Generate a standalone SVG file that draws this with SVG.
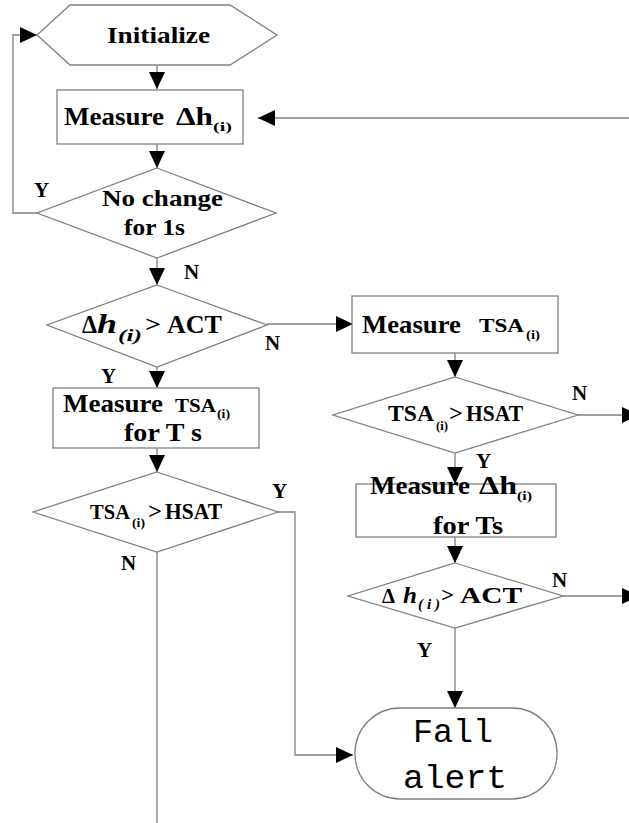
<svg xmlns="http://www.w3.org/2000/svg" width="629" height="823" viewBox="0 0 629 823">
<defs>
<marker id="ah" markerUnits="userSpaceOnUse" markerWidth="17" markerHeight="16" refX="17" refY="8" orient="auto"><path d="M0,0 L17,8 L0,16 z" fill="#000"/></marker>
</defs>
<style>
.s{fill:#fff;stroke:#808080;stroke-width:1.3}
.c{fill:none;stroke:#808080;stroke-width:1.3}
.t{font-family:"Liberation Serif","Times New Roman",serif;font-weight:bold;fill:#000}
.i{font-style:italic}
.l{font-family:"Liberation Serif","Times New Roman",serif;font-weight:bold;font-size:21px;fill:#000}
.m{font-family:"Liberation Mono","Courier New",monospace;font-size:34px;fill:#000}
</style>
<rect width="629" height="823" fill="#fff"/>
<g id="connectors">
<path class="c" d="M157,65 V89" marker-end="url(#ah)"/>
<path class="c" d="M629,118 H258" marker-end="url(#ah)"/>
<path class="c" d="M157,144 V168" marker-end="url(#ah)"/>
<path class="c" d="M37,213 H13 V35 H37" marker-end="url(#ah)"/>
<path class="c" d="M157,258 V285" marker-end="url(#ah)"/>
<path class="c" d="M267,324 H353" marker-end="url(#ah)"/>
<path class="c" d="M157,367 V388" marker-end="url(#ah)"/>
<path class="c" d="M157,448 V472" marker-end="url(#ah)"/>
<path class="c" d="M278,512 H295 V755 H353" marker-end="url(#ah)"/>
<path class="c" d="M157,552 V823"/>
<path class="c" d="M455,353 V377" marker-end="url(#ah)"/>
<path class="c" d="M578,415 H639" marker-end="url(#ah)"/>
<path class="c" d="M455,453 V484" marker-end="url(#ah)"/>
<path class="c" d="M455,537 V563" marker-end="url(#ah)"/>
<path class="c" d="M563,596 H639" marker-end="url(#ah)"/>
<path class="c" d="M455,628 V708" marker-end="url(#ah)"/>
<text class="l" x="34" y="197">Y</text>
<text class="l" x="184" y="279">N</text>
<text class="l" x="265" y="350">N</text>
<text class="l" x="101" y="383">Y</text>
<text class="l" x="272" y="498">Y</text>
<text class="l" x="121" y="570">N</text>
<text class="l" x="572" y="400">N</text>
<text class="l" x="476" y="468">Y</text>
<text class="l" x="552" y="587">N</text>
<text class="l" x="417" y="657">Y</text>
</g>
<g id="initialize">
<polygon class="s" points="37,35 70,5 230,5 277,35 230,65 70,65"/>
<text class="t" x="107" y="43" font-size="24" textLength="103" lengthAdjust="spacingAndGlyphs">Initialize</text>
</g>
<g id="measure-dh">
<rect class="s" x="57" y="90" width="186" height="54"/>
<text class="t" x="64" y="125" font-size="25" textLength="100" lengthAdjust="spacingAndGlyphs">Measure</text>
<text class="t" x="176" y="125" font-size="25" textLength="37" lengthAdjust="spacingAndGlyphs">Δh</text>
<text class="t" x="213" y="131" font-size="13" textLength="19" lengthAdjust="spacingAndGlyphs">(i)</text>
</g>
<g id="no-change">
<polygon class="s" points="157,168 276,213 157,258 37,213"/>
<text class="t" x="102" y="206" font-size="24" textLength="121" lengthAdjust="spacingAndGlyphs">No change</text>
<text class="t" x="124" y="235" font-size="24" textLength="61" lengthAdjust="spacingAndGlyphs">for 1s</text>
</g>
<g id="dh-act-1">
<polygon class="s" points="157,285 267,325 157,367 47,325"/>
<text class="t" x="82" y="333" font-size="26" textLength="15" lengthAdjust="spacingAndGlyphs">Δ</text>
<text class="t i" x="97" y="333" font-size="28" textLength="20" lengthAdjust="spacingAndGlyphs">h</text>
<text class="t i" x="118" y="341" font-size="17" textLength="24" lengthAdjust="spacingAndGlyphs">(i)</text>
<text class="t" x="145" y="332" font-size="24" textLength="16" lengthAdjust="spacingAndGlyphs">&gt;</text>
<text class="t" x="167" y="333" font-size="25" textLength="55" lengthAdjust="spacingAndGlyphs">ACT</text>
</g>
<g id="measure-tsa-t">
<rect class="s" x="53" y="388" width="206" height="60"/>
<text class="t" x="63" y="412" font-size="25" textLength="100" lengthAdjust="spacingAndGlyphs">Measure</text>
<text class="t" x="175" y="412" font-size="19" textLength="41" lengthAdjust="spacingAndGlyphs">TSA</text>
<text class="t" x="217" y="418" font-size="12" textLength="13" lengthAdjust="spacingAndGlyphs">(i)</text>
<text class="t" x="124" y="441" font-size="25" textLength="78" lengthAdjust="spacingAndGlyphs">for T s</text>
</g>
<g id="tsa-hsat-1">
<polygon class="s" points="157,472 278,512 157,552 33,512"/>
<text class="t" x="90" y="519" font-size="21" textLength="40" lengthAdjust="spacingAndGlyphs">TSA</text>
<text class="t" x="132" y="527" font-size="13" textLength="13" lengthAdjust="spacingAndGlyphs">(i)</text>
<text class="t" x="148" y="519" font-size="23" textLength="14" lengthAdjust="spacingAndGlyphs">&gt;</text>
<text class="t" x="165" y="519" font-size="23" textLength="57" lengthAdjust="spacingAndGlyphs">HSAT</text>
</g>
<g id="measure-tsa">
<rect class="s" x="352" y="296" width="206" height="57"/>
<text class="t" x="362" y="333" font-size="25" textLength="99" lengthAdjust="spacingAndGlyphs">Measure</text>
<text class="t" x="479" y="332" font-size="19" textLength="45" lengthAdjust="spacingAndGlyphs">TSA</text>
<text class="t" x="526" y="339" font-size="12" textLength="14" lengthAdjust="spacingAndGlyphs">(i)</text>
</g>
<g id="tsa-hsat-2">
<polygon class="s" points="455,377 578,415 455,453 333,415"/>
<text class="t" x="388" y="421" font-size="23" textLength="46" lengthAdjust="spacingAndGlyphs">TSA</text>
<text class="t" x="436" y="430" font-size="13" textLength="12" lengthAdjust="spacingAndGlyphs">(i)</text>
<text class="t" x="449" y="421" font-size="23" textLength="14" lengthAdjust="spacingAndGlyphs">&gt;</text>
<text class="t" x="466" y="421" font-size="23" textLength="57" lengthAdjust="spacingAndGlyphs">HSAT</text>
</g>
<g id="measure-dh-t">
<rect class="s" x="356" y="484" width="200" height="53"/>
<text class="t" x="370" y="494" font-size="25" textLength="100" lengthAdjust="spacingAndGlyphs">Measure</text>
<text class="t" x="479" y="494" font-size="25" textLength="38" lengthAdjust="spacingAndGlyphs">Δh</text>
<text class="t" x="517" y="500" font-size="13" textLength="15" lengthAdjust="spacingAndGlyphs">(i)</text>
<text class="t" x="433" y="534" font-size="25" textLength="70" lengthAdjust="spacingAndGlyphs">for Ts</text>
</g>
<g id="dh-act-2">
<polygon class="s" points="455,563 563,596 455,628 348,596"/>
<text class="t" x="382" y="603" font-size="21" textLength="13" lengthAdjust="spacingAndGlyphs">Δ</text>
<text class="t i" x="403" y="603" font-size="23" textLength="14" lengthAdjust="spacingAndGlyphs">h</text>
<text class="t i" x="418" y="609" font-size="15" textLength="22" lengthAdjust="spacingAndGlyphs">( i )</text>
<text class="t" x="441" y="602" font-size="22" textLength="13" lengthAdjust="spacingAndGlyphs">&gt;</text>
<text class="t" x="460" y="603" font-size="23" textLength="62" lengthAdjust="spacingAndGlyphs">ACT</text>
</g>
<g id="fall-alert">
<rect class="s" x="355" y="708" width="202" height="91" rx="45" ry="45"/>
<text class="m" x="413" y="742" textLength="80" lengthAdjust="spacingAndGlyphs">Fall</text>
<text class="m" x="403" y="788" textLength="104" lengthAdjust="spacingAndGlyphs">alert</text>
</g>
</svg>
